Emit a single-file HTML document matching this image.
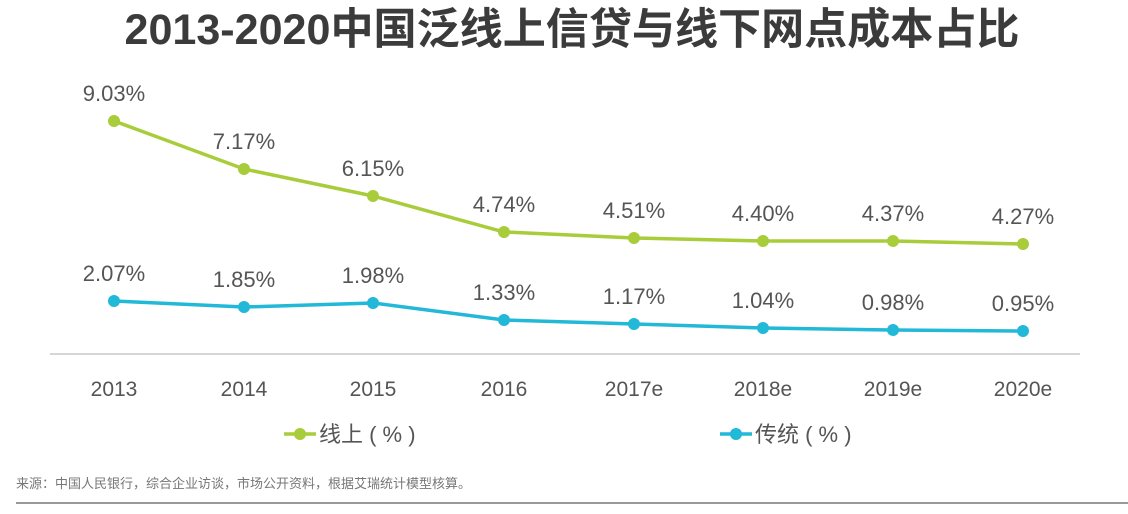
<!DOCTYPE html>
<html><head><meta charset="utf-8"><style>
body{margin:0;width:1128px;height:509px;background:#fff;overflow:hidden}
svg text{font-family:"Liberation Sans","Noto Sans CJK SC",sans-serif}
</style></head><body>
<svg width="1128" height="509" viewBox="0 0 1128 509">
<text x="572" y="44" text-anchor="middle" font-size="43" font-weight="bold" fill="#3b3b3b" textLength="895" lengthAdjust="spacingAndGlyphs">2013-2020中国泛线上信贷与线下网点成本占比</text>
<line x1="50" y1="354" x2="1080" y2="354" stroke="#c8c8c8" stroke-width="1.5"/>
<g font-size="21" fill="#555" text-anchor="middle">
<text x="114" y="396">2013</text><text x="244" y="396">2014</text><text x="373" y="396">2015</text><text x="504" y="396">2016</text><text x="634" y="396">2017e</text><text x="763" y="396">2018e</text><text x="893" y="396">2019e</text><text x="1023" y="396">2020e</text>
</g>
<polyline fill="none" stroke="#a8cc3a" stroke-width="3.5" points="114,121 244,169 373,196 504,232 634,238 763,241 893,241 1023,244"/>
<g fill="#a8cc3a"><circle cx="114" cy="121" r="6"/><circle cx="244" cy="169" r="6"/><circle cx="373" cy="196" r="6"/><circle cx="504" cy="232" r="6"/><circle cx="634" cy="238" r="6"/><circle cx="763" cy="241" r="6"/><circle cx="893" cy="241" r="6"/><circle cx="1023" cy="244" r="6"/></g>
<polyline fill="none" stroke="#22b8d8" stroke-width="3.5" points="114,301 244,307 373,303 504,320 634,324 763,328 893,330 1023,331"/>
<g fill="#22b8d8"><circle cx="114" cy="301" r="6"/><circle cx="244" cy="307" r="6"/><circle cx="373" cy="303" r="6"/><circle cx="504" cy="320" r="6"/><circle cx="634" cy="324" r="6"/><circle cx="763" cy="328" r="6"/><circle cx="893" cy="330" r="6"/><circle cx="1023" cy="331" r="6"/></g>
<g font-size="22" fill="#555" text-anchor="middle">
<text x="114" y="101">9.03%</text><text x="244" y="149">7.17%</text><text x="373" y="176">6.15%</text><text x="504" y="212">4.74%</text><text x="634" y="218">4.51%</text><text x="763" y="221">4.40%</text><text x="893" y="221">4.37%</text><text x="1023" y="224">4.27%</text>
<text x="114" y="281">2.07%</text><text x="244" y="287">1.85%</text><text x="373" y="283">1.98%</text><text x="504" y="300">1.33%</text><text x="634" y="304">1.17%</text><text x="763" y="308">1.04%</text><text x="893" y="310">0.98%</text><text x="1023" y="311">0.95%</text>
</g>
<line x1="284" y1="434" x2="316" y2="434" stroke="#a8cc3a" stroke-width="3.5"/><circle cx="300" cy="434" r="6" fill="#a8cc3a"/>
<text x="319" y="442" font-size="22" fill="#555">线上 ( % )</text>
<line x1="720" y1="434" x2="752" y2="434" stroke="#22b8d8" stroke-width="3.5"/><circle cx="736" cy="434" r="6" fill="#22b8d8"/>
<text x="755" y="442" font-size="22" fill="#555">传统 ( % )</text>
<text x="16" y="488" font-size="13" fill="#777">来源：中国人民银行，综合企业访谈，市场公开资料，根据艾瑞统计模型核算。</text>
<line x1="16" y1="503" x2="1128" y2="503" stroke="#999" stroke-width="2"/>
</svg>
</body></html>
